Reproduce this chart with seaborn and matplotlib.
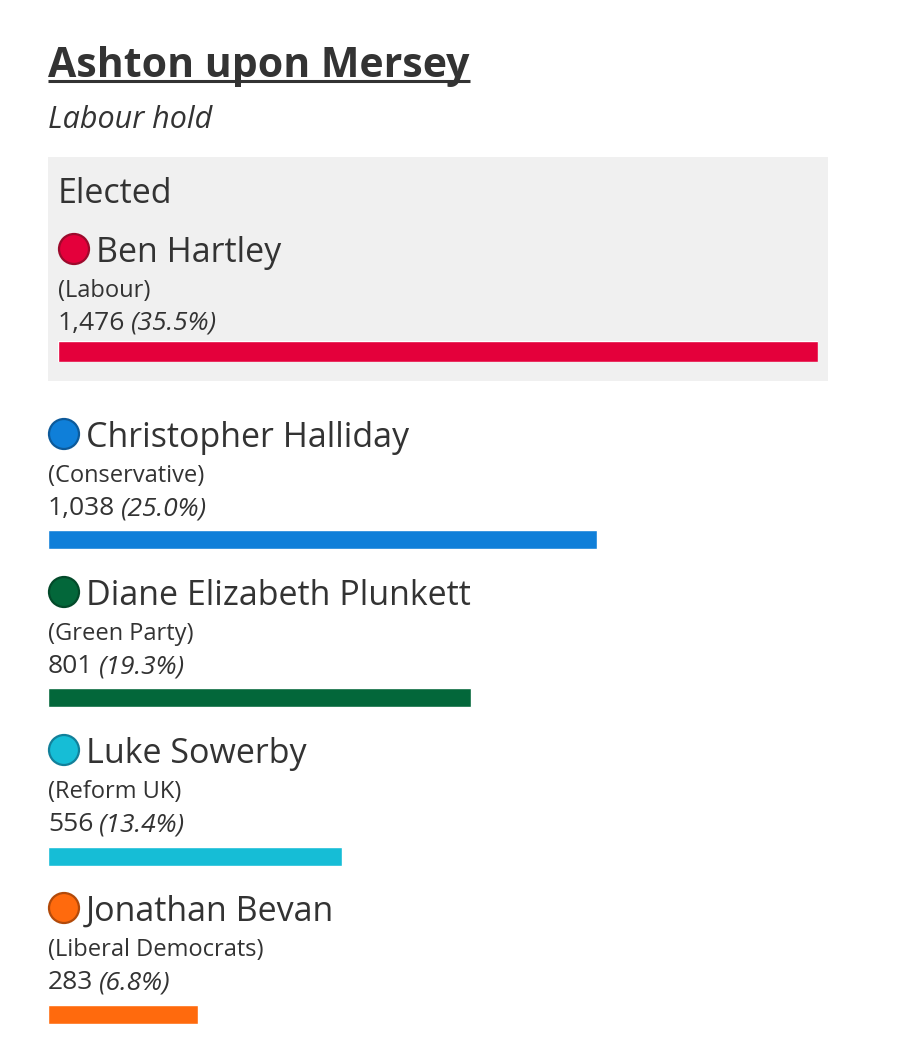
import matplotlib.pyplot as plt
from matplotlib.patches import Circle, Rectangle
import seaborn as sns

# --------------------------------------
# Results
# --------------------------------------
ward = "Ashton upon Mersey"
outcome = "Labour hold"
names = ["Ben Hartley", "Christopher Halliday", "Diane Elizabeth Plunkett",
         "Luke Sowerby", "Jonathan Bevan"]
parties = ["Labour", "Conservative", "Green Party", "Reform UK", "Liberal Democrats"]
votes = [1476, 1038, 801, 556, 283]
shares = [35.5, 25.0, 19.3, 13.4, 6.8]
colours = ["#e4003b", "#0f7fd9", "#03673a", "#16bdd6", "#ff6a0d"]
edges = ["#9c0a2c", "#0d5a9a", "#034a2a", "#12809a", "#b24a0a"]

W, H = 924, 1054
TXT = "#333333"

sns.set_theme(style="white")
plt.rcParams['font.family'] = ['Open Sans', 'DejaVu Sans']

fig = plt.figure(figsize=(W / 100, H / 100), dpi=100)
fig.patch.set_facecolor("white")


def px_axes(x0, y0, x1, y1, **kw):
    """axes placed by pixel box (top-left origin)"""
    return fig.add_axes([x0 / W, 1 - y1 / H, (x1 - x0) / W, (y1 - y0) / H], **kw)


# overlay for text, box and dots in pixel units
ov = px_axes(0, 0, W, H, zorder=0)
ov.set_xlim(0, W)
ov.set_ylim(H, 0)
ov.axis("off")

ov.add_patch(Rectangle((48, 157), 780, 224, color="#f0f0f0", lw=0))

t = ov.text(48, 77, ward, fontsize=29.5, fontweight="bold", color=TXT, va="baseline")
ov.text(48, 128, outcome, fontsize=22, style="italic", color=TXT, va="baseline")
ov.text(58, 203, "Elected", fontsize=24.5, color=TXT, va="baseline")

fig.canvas.draw()
r = fig.canvas.get_renderer()
bb = t.get_window_extent(r)
ov.plot([48, 48 + bb.width], [81, 81], color=TXT, lw=2.2, solid_capstyle="butt")


def candidate(i, x, base):
    ov.add_patch(Circle((x + 16, base - 13), 15, facecolor=colours[i],
                        edgecolor=edges[i], lw=1.6))
    ov.text(x + 38, base, names[i], fontsize=24.5, color=TXT, va="baseline")
    ov.text(x, base + 35, "(" + parties[i] + ")", fontsize=17, color=TXT, va="baseline")
    v = ov.text(x, base + 68, "{:,}".format(votes[i]), fontsize=19, color=TXT,
                va="baseline")
    w = v.get_window_extent(r).width
    ov.text(x + w + 6, base + 68, "({:.1f}%)".format(shares[i]), fontsize=19,
            style="italic", color=TXT, va="baseline")


candidate(0, 58, 262)
for k in range(1, 5):
    candidate(k, 48, 447 + 158 * (k - 1))

# winner bar inside the box
ax0 = px_axes(58, 341, 818, 362)
sns.barplot(x=votes[:1], y=names[:1], hue=names[:1], palette=colours[:1],
            orient="h", width=1.0, saturation=1, legend=False, ax=ax0)
ax0.set_xlim(0, max(votes))
ax0.set_ylim(0.5, -0.5)
ax0.axis("off")

# the rest
ax1 = px_axes(48, 530, 828, 1024)
sns.barplot(x=votes[1:], y=names[1:], hue=names[1:], palette=colours[1:],
            orient="h", width=0.12, saturation=1, legend=False, ax=ax1)
ax1.set_xlim(0, max(votes))
ax1.set_ylim(3.06, -0.06)
ax1.axis("off")

fig.savefig("out.png", dpi=100)
